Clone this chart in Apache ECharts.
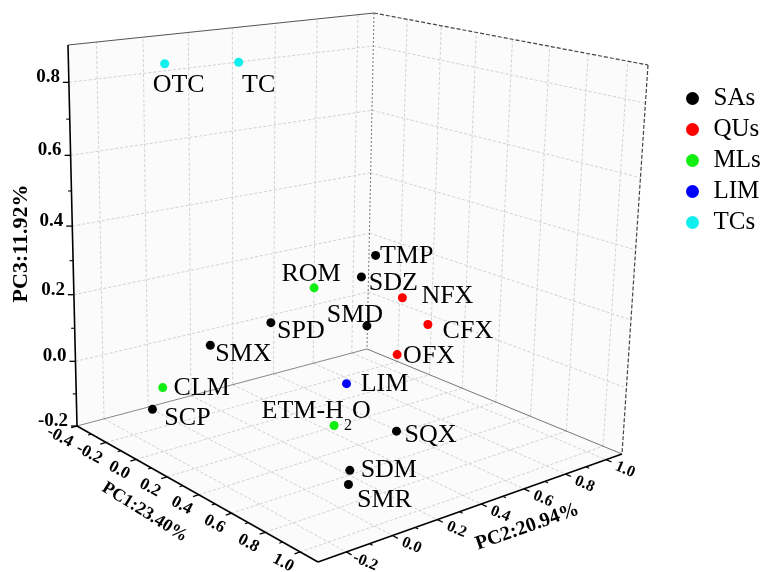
<!DOCTYPE html>
<html>
<head>
<meta charset="utf-8">
<script src="https://cdn.jsdelivr.net/npm/echarts@6/dist/echarts.min.js"></script>
<style>
html,body{margin:0;padding:0;background:#ffffff;}
#chart{width:773px;height:572px;}
</style>
</head>
<body>
<div id="chart"></div>
<script>
// ================= DATA =================
const groupNames = ['SAs', 'QUs', 'MLs', 'LIM', 'TCs'];
const axisNames = ['PC1:23.40%', 'PC2:20.94%', 'PC3:11.92%'];
const pc1Range = [-0.4, 1.1];
const pc2Range = [-0.32, 1.08];
const pc3Range = [-0.2, 0.9];
const pc1Ticks = [-0.4, -0.2, 0.0, 0.2, 0.4, 0.6, 0.8, 1.0];
const pc2Ticks = [-0.2, 0.0, 0.2, 0.4, 0.6, 0.8, 1.0];
const pc3Ticks = [-0.2, 0.0, 0.2, 0.4, 0.6, 0.8];

const saNames = ['TMP', 'SDZ', 'SMD', 'SPD', 'SMX', 'SCP', 'SQX', 'SDM', 'SMR'];
const saPC1 = [0.24, 0.32, 0.47, 0.01, -0.07, -0.10, 0.68, 0.83, 0.90];
const saPC2 = [0.59, 0.46, 0.37, 0.28, 0.06, -0.18, 0.35, 0.02, -0.04];
const saPC3 = [0.31, 0.28, 0.18, 0.11, 0.06, -0.10, -0.08, -0.09, -0.10];

const quNames = ['NFX', 'CFX', 'OFX'];
const quPC1 = [0.39, 0.54, 0.61];
const quPC2 = [0.60, 0.60, 0.40];
const quPC3 = [0.21, 0.16, 0.12];

const mlNames = ['ROM', 'CLM', 'ETM-H2O'];
const mlPC1 = [0.09, -0.15, 0.57];
const mlPC2 = [0.42, -0.10, 0.15];
const mlPC3 = [0.21, -0.06, -0.05];

const limNames = ['LIM'];
const limPC1 = [0.51];
const limPC2 = [0.25];
const limPC3 = [0.04];

const tcNames = ['OTC', 'TC'];
const tcPC1 = [-0.12, -0.17];
const tcPC2 = [-0.10, 0.26];
const tcPC3 = [0.87, 0.84];

// ================= LAYOUT / STYLE =================
const W = 773, H = 572;
const FONT = '"Liberation Serif", "Times New Roman", serif';
const COLORS = {SAs: '#000000', QUs: '#ff0000', MLs: '#11ee11', LIM: '#0000ff', TCs: '#11eeee'};
// screen corners of the box (floor / top): (pc1 min,pc2 min), (pc1 max,pc2 min), (pc1 max,pc2 max), (pc1 min,pc2 max)
const FLOOR = [[77, 426], [318, 562], [622, 454], [367, 349]];
const TOP = [[68, 45], [328, 125], [648, 65], [374, 13]];
const WARP = [0.894, 1.096, 0.92]; // perspective foreshortening per axis
const LABEL_OFFSET = {
  TMP: [31, 1], SDZ: [32, 6], SMD: [-12, -11], SPD: [30, 9], SMX: [33, 9], SCP: [35, 9],
  SQX: [34, 4], SDM: [39, 0], SMR: [36, 16], NFX: [45, -2], CFX: [40, 7], OFX: [32, 2],
  ROM: [-3, -14], CLM: [39, 1], 'ETM-H2O': [-18, -14], LIM: [38, 0], OTC: [14, 21], TC: [20, 23]
};

function warp(t, k) { return k * t / (1 + (k - 1) * t); }
function bil(q, u, v) {
  return [
    (1 - u) * (1 - v) * q[0][0] + u * (1 - v) * q[1][0] + u * v * q[2][0] + (1 - u) * v * q[3][0],
    (1 - u) * (1 - v) * q[0][1] + u * (1 - v) * q[1][1] + u * v * q[2][1] + (1 - u) * v * q[3][1]
  ];
}
function proj(a, b, c) {
  const u = warp((a - pc1Range[0]) / (pc1Range[1] - pc1Range[0]), WARP[0]);
  const v = warp((b - pc2Range[0]) / (pc2Range[1] - pc2Range[0]), WARP[1]);
  const w = warp((c - pc3Range[0]) / (pc3Range[1] - pc3Range[0]), WARP[2]);
  const f = bil(FLOOR, u, v), t = bil(TOP, u, v);
  return [f[0] + (t[0] - f[0]) * w, f[1] + (t[1] - f[1]) * w];
}
function minors(ticks) {
  const m = [];
  for (let i = 0; i < ticks.length - 1; i++) m.push((ticks[i] + ticks[i + 1]) / 2);
  return m;
}

function renderFrame(params, api) {
  const [a0, a1] = pc1Range, [b0, b1] = pc2Range, [c0, c1] = pc3Range;
  const P = (a, b, c) => api.coord(proj(a, b, c));
  const kids = [];
  const L = (p, q, stroke, width, dash) => {
    const st = {stroke: stroke, lineWidth: width};
    if (dash) st.lineDash = dash;
    kids.push({type: 'line', shape: {x1: p[0], y1: p[1], x2: q[0], y2: q[1]}, style: st});
  };
  const T = (p, text, size, rot, align, weight) => {
    kids.push({type: 'text', x: p[0], y: p[1], rotation: rot,
      style: {text: text, fill: '#000', fontSize: size, fontFamily: FONT, fontWeight: weight || 'bold',
        align: align || 'center', textAlign: align || 'center', verticalAlign: 'middle', textVerticalAlign: 'middle'}});
  };
  const WALL = '#fbfbfb';
  kids.push({type: 'polygon', shape: {points: [P(a0, b0, c0), P(a0, b1, c0), P(a0, b1, c1), P(a0, b0, c1)]}, style: {fill: WALL}});
  kids.push({type: 'polygon', shape: {points: [P(a0, b1, c0), P(a1, b1, c0), P(a1, b1, c1), P(a0, b1, c1)]}, style: {fill: WALL}});
  kids.push({type: 'polygon', shape: {points: [P(a0, b0, c0), P(a1, b0, c0), P(a1, b1, c0), P(a0, b1, c0)]}, style: {fill: WALL}});

  const G = '#d2d2d2', GD = [3, 2];
  // left wall grid (pc1 = min)
  pc2Ticks.forEach(t => L(P(a0, t, c0), P(a0, t, c1), G, 1, GD));
  pc3Ticks.slice(1).forEach(t => L(P(a0, b0, t), P(a0, b1, t), G, 1, GD));
  // right wall grid (pc2 = max)
  pc1Ticks.slice(1).forEach(t => L(P(t, b1, c0), P(t, b1, c1), G, 1, GD));
  pc3Ticks.slice(1).forEach(t => L(P(a0, b1, t), P(a1, b1, t), G, 1, GD));
  // floor grid (pc3 = min)
  pc1Ticks.slice(1).forEach(t => L(P(t, b0, c0), P(t, b1, c0), G, 1, GD));
  pc2Ticks.forEach(t => L(P(a0, t, c0), P(a1, t, c0), G, 1, GD));

  // box edges
  L(P(a0, b0, c1), P(a0, b1, c1), '#555', 1.2);
  L(P(a0, b1, c1), P(a1, b1, c1), '#444', 1.2, [4, 2]);
  L(P(a1, b1, c1), P(a1, b1, c0), '#444', 1.2, [4, 2]);
  L(P(a0, b1, c1), P(a0, b1, c0), '#777', 1, [2, 2]);
  L(P(a0, b0, c0), P(a0, b1, c0), '#888', 1);
  L(P(a0, b1, c0), P(a1, b1, c0), '#777', 1);
  // axes
  L(P(a0, b0, c0), P(a0, b0, c1), '#000', 1.6);
  L(P(a0, b0, c0), P(a1, b0, c0), '#000', 1.6);
  L(P(a1, b0, c0), P(a1, b1, c0), '#000', 1.6);

  // PC3 ticks + labels
  pc3Ticks.forEach(t => { const p = P(a0, b0, t); L(p, [p[0] - 6, p[1]], '#000', 1.3); T([p[0] - 9, p[1] - 5], t.toFixed(1), 19, 0, 'right'); });
  minors(pc3Ticks).forEach(t => { const p = P(a0, b0, t); L(p, [p[0] - 3.5, p[1]], '#000', 1.1); });
  // PC1 ticks + labels
  const dirPC1 = t => { const p = P(t, b0, c0), q = P(t, b0 + 0.1, c0); const dx = p[0] - q[0], dy = p[1] - q[1], n = Math.hypot(dx, dy); return [dx / n, dy / n]; };
  pc1Ticks.forEach(t => { const p = P(t, b0, c0), d = dirPC1(t); L(p, [p[0] + d[0] * 6, p[1] + d[1] * 6], '#000', 1.3); T([p[0] - 17, p[1] + 11], t.toFixed(1), 17, -28 * Math.PI / 180); });
  minors(pc1Ticks).forEach(t => { const p = P(t, b0, c0), d = dirPC1(t); L(p, [p[0] + d[0] * 3.5, p[1] + d[1] * 3.5], '#000', 1.1); });
  // PC2 ticks + labels
  const dirPC2 = t => { const p = P(a1, t, c0), q = P(a1 - 0.1, t, c0); const dx = p[0] - q[0], dy = p[1] - q[1], n = Math.hypot(dx, dy); return [dx / n, dy / n]; };
  pc2Ticks.forEach(t => { const p = P(a1, t, c0), d = dirPC2(t); L(p, [p[0] + d[0] * 6, p[1] + d[1] * 6], '#000', 1.3); T([p[0] + 19, p[1] + 10], t.toFixed(1), 16, -23 * Math.PI / 180); });
  minors(pc2Ticks).forEach(t => { const p = P(a1, t, c0), d = dirPC2(t); L(p, [p[0] + d[0] * 3.5, p[1] + d[1] * 3.5], '#000', 1.1); });

  // axis names
  const m1 = P((a0 + a1) / 2, b0, c0);
  T([m1[0] - 46, m1[1] + 22], axisNames[0], 18, -32 * Math.PI / 180);
  const m2 = P(a1, 0.4, c0);
  T([m2[0] + 46, m2[1] + 23], axisNames[1], 20, 19.4 * Math.PI / 180);
  const m3 = P(a0, b0, 0.35);
  T([m3[0] - 51, m3[1]], axisNames[2], 22, Math.PI / 2);

  return {type: 'group', children: kids};
}

function makeSeries(name, labels, x, y, z) {
  return {
    type: 'scatter', name: name, coordinateSystem: 'cartesian2d', symbol: 'circle', symbolSize: 9, z: 5,
    itemStyle: {color: COLORS[name], opacity: 1},
    emphasis: {disabled: true},
    label: {
      show: true, position: 'inside', color: '#000', fontSize: 26, fontFamily: FONT,
      formatter: p => p.name === 'ETM-H2O' ? '{a|ETM-H}{b|2}{a|O}' : p.name,
      rich: {
        a: {fontSize: 26, fontFamily: FONT, color: '#000'},
        b: {fontSize: 16, fontFamily: FONT, color: '#000', padding: [28, 0, 0, 0]}
      }
    },
    data: labels.map((n, i) => ({name: n, value: proj(x[i], y[i], z[i]), label: {offset: LABEL_OFFSET[n]}}))
  };
}

const option = {
  animation: false,
  backgroundColor: '#ffffff',
  grid: {left: 0, right: 0, top: 0, bottom: 0},
  xAxis: {type: 'value', min: 0, max: W, show: false},
  yAxis: {type: 'value', min: 0, max: H, inverse: true, show: false},
  legend: {
    orient: 'vertical', left: 686, top: 86, padding: 0, icon: 'circle',
    itemWidth: 32, itemHeight: 13, itemGap: 6,
    textStyle: {fontSize: 25, fontFamily: FONT, color: '#000', lineHeight: 24},
    data: groupNames, selectedMode: false
  },
  series: [
    {type: 'custom', coordinateSystem: 'cartesian2d', silent: true, z: 1, data: [[0, 0]], renderItem: renderFrame},
    makeSeries('SAs', saNames, saPC1, saPC2, saPC3),
    makeSeries('QUs', quNames, quPC1, quPC2, quPC3),
    makeSeries('MLs', mlNames, mlPC1, mlPC2, mlPC3),
    makeSeries('LIM', limNames, limPC1, limPC2, limPC3),
    makeSeries('TCs', tcNames, tcPC1, tcPC2, tcPC3)
  ]
};
const chart = echarts.init(document.getElementById('chart'));
chart.setOption(option);
</script>
</body>
</html>
